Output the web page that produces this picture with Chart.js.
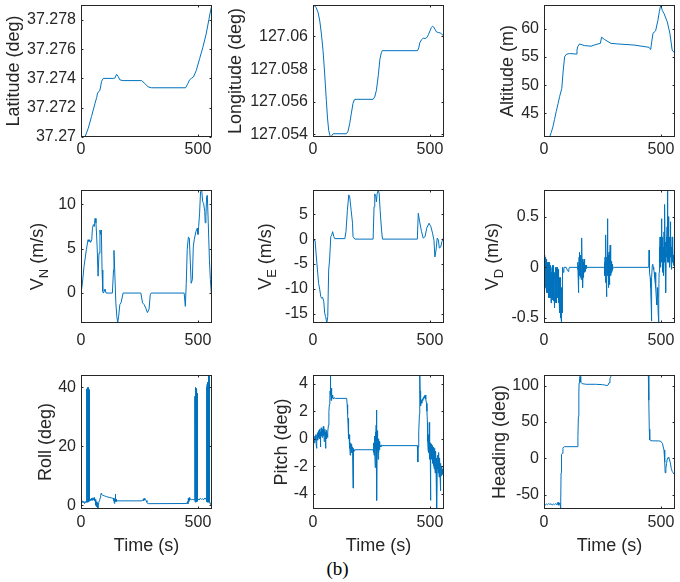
<!DOCTYPE html>
<html>
<head>
<meta charset="utf-8">
<script src="https://cdn.jsdelivr.net/npm/chart.js@4.4.1/dist/chart.umd.min.js"></script>
<style>
  body { margin: 0; background: #fff; }
  #fig { position: relative; width: 680px; height: 582px; overflow: hidden; }
  #fig canvas { position: absolute; }
  #caption { position: absolute; left: 300px; width: 75px; top: 559px; text-align: center;
             font: 19px 'Liberation Serif', 'Times New Roman', serif; line-height: 20px; color: #000; }
</style>
</head>
<body>
<div id="fig"><div id="caption">(b)</div></div>
<script>
// time axis (s)
const TIME_TICKS = [0, 500];
const TIME_MAX = 560;

// [time, value] pairs
const latitude = [[0,37.2700],[10,37.2700],[17,37.2700],[31,37.2706],[45,37.2714],[60,37.2723],[67,37.2727],[71,37.2730],[81,37.2732],[88,37.2738],[95,37.2740],[138,37.2740],[145,37.27402],[152,37.27428],[159,37.27413],[166,37.2739],[180,37.27385],[259,37.27385],[273,37.27365],[287,37.27342],[301,37.27336],[447,37.27336],[457,37.27365],[464,37.2739],[472,37.2740],[481,37.2741],[493,37.27455],[507,37.27534],[521,37.27613],[535,37.27703],[547,37.27804],[555,37.27872],[560,37.27901]];

const longitude = [[0,127.06193],[7,127.06188],[14,127.06176],[22,127.06145],[29,127.06095],[36,127.06015],[43,127.05913],[50,127.0577],[57,127.05609],[62,127.055],[67,127.05426],[72,127.05395],[76,127.05384],[81,127.05395],[86,127.05404],[143,127.05404],[150,127.0542],[157,127.05467],[164,127.0553],[171,127.0559],[176,127.0561],[179,127.05615],[257,127.05615],[264,127.0563],[271,127.0567],[279,127.0576],[286,127.0586],[292,127.059],[296,127.05913],[447,127.05913],[452,127.0593],[457,127.05963],[464,127.0598],[471,127.0599],[479,127.05988],[486,127.05992],[493,127.0601],[500,127.06034],[506,127.06055],[511,127.06063],[516,127.06058],[521,127.06045],[528,127.06028],[536,127.06024],[545,127.06022],[553,127.0601],[560,127.06004]];

const altitude = [[0,40.8],[24,40.8],[31,41.6],[38,42.6],[45,43.9],[52,45.3],[60,46.7],[67,48.0],[76,49.4],[82,52.5],[88,55.0],[95,55.45],[109,55.6],[137,55.5],[141,56.2],[144,56.8],[152,57.3],[173,57.0],[201,56.9],[222,57.2],[241,57.4],[246,58.5],[258,58.1],[286,57.4],[314,57.3],[385,57.1],[449,56.7],[456,56.3],[461,57.8],[466,59.2],[477,59.6],[487,61.5],[493,63.0],[499,64.2],[506,63.2],[513,62.7],[527,61.2],[538,59.2],[548,56.2],[557,55.75],[560,55.7]];

const velNorth = [[0,0],[6,1.1],[13,3.0],[23,4.9],[30,6.0],[34,5.8],[37,6.0],[41,5.7],[46,6.0],[49,7.3],[53,7.7],[57,7.5],[60,8.4],[64,7.9],[69,5.2],[73,1.9],[77,4.5],[81,7.1],[84,6.6],[87,7.1],[90,2.6],[93,0.2],[96,0],[103,0.45],[107,0],[134,0],[139,2.6],[141,4.8],[144,2.6],[149,-1.1],[153,-2.6],[157,-3.35],[161,-2.6],[166,-1.3],[171,-1.1],[180,0],[256,0],[263,-1.1],[270,-1.3],[277,-1.7],[284,-2.2],[291,-1.8],[296,-0.2],[300,0],[441,0],[446,-1.5],[450,1.1],[454,4.9],[459,6.3],[463,6.2],[467,3.7],[471,1.1],[476,1.5],[480,5.2],[484,6.0],[491,6.9],[497,7.3],[500,6.6],[503,7.5],[507,9.0],[511,11.4],[516,11.6],[520,10.3],[524,10.1],[529,9.2],[531,7.9],[534,8.6],[537,10.9],[540,11.0],[544,7.9],[549,3.7],[553,1.5],[557,0],[560,0]];

const velEast = [[0,0],[4,-0.2],[9,-0.3],[13,-2.8],[19,-6.2],[24,-8.9],[29,-10.2],[33,-11.5],[37,-11.9],[41,-11.7],[46,-12.5],[50,-14.9],[54,-15.6],[59,-16.87],[63,-15.6],[67,-6.2],[71,-4.2],[76,0.5],[80,0.8],[84,1.5],[89,0.5],[93,0.1],[136,0.1],[141,1.5],[147,5.8],[153,8.9],[157,8.5],[163,5.8],[169,3.2],[171,0.5],[179,0],[257,0],[261,6.5],[264,9.1],[269,8.5],[271,7.5],[274,9.1],[279,9.88],[283,9.1],[287,5.8],[293,1.8],[297,0],[446,0],[450,5.2],[456,3.5],[464,1.5],[471,0.2],[479,0.5],[486,2.2],[496,3.2],[504,2.5],[511,1.2],[517,-0.2],[521,-3.6],[526,-2.2],[531,0.2],[536,-0.2],[540,-1.8],[546,-1.6],[551,-0.5],[560,0.5]];

const velDown = [[0,0],[2,0.05],[2.5,-0.1],[3,-0.05],[3.5,0.12],[4,0.1],[4.5,-0.15],[5,-0.08],[5.5,0.1],[6,0.08],[6.5,-0.2],[7,-0.15],[7.5,0.1],[8,0.05],[8.5,-0.05],[9,-0.2],[9.5,-0.25],[10,0.02],[10.5,0.05],[11,-0.1],[11.5,-0.2],[12,0.08],[12.5,0.02],[13,-0.25],[13.5,0.05],[14,-0.05],[14.5,-0.22],[15,0.05],[15.5,-0.1],[16,-0.18],[16.5,0.03],[17,0],[17.5,-0.15],[18,-0.3],[18.5,0.02],[19,-0.1],[19.5,-0.25],[20,0.05],[20.5,-0.1],[21,-0.22],[21.5,0.02],[22,-0.05],[22.5,-0.3],[23,-0.15],[23.5,0],[24,0.03],[24.5,-0.2],[25,-0.28],[25.5,0.05],[26,-0.08],[26.5,-0.25],[27,-0.2],[27.5,-0.05],[28,0],[28.5,-0.3],[29,-0.15],[29.5,0.02],[30,-0.35],[30.5,-0.2],[31,-0.1],[31.5,-0.05],[32,-0.25],[32.5,-0.35],[33,-0.05],[33.5,-0.15],[34,-0.2],[34.5,0],[35,-0.3],[35.5,-0.2],[36,-0.12],[36.5,-0.32],[37,0.02],[37.5,-0.1],[38,-0.25],[38.5,0],[39,-0.1],[39.5,-0.22],[40,-0.33],[40.5,0.02],[41,-0.15],[41.5,-0.3],[42,-0.05],[42.5,-0.2],[43,-0.28],[43.5,-0.05],[44,-0.12],[44.5,-0.25],[45,-0.4],[45.5,-0.1],[46,-0.2],[46.5,-0.3],[47,-0.05],[47.5,-0.15],[48,-0.25],[48.5,0],[49,-0.1],[49.5,-0.35],[50,-0.3],[50.5,-0.05],[51,-0.15],[51.5,-0.28],[52,-0.2],[52.5,-0.1],[53,0],[53.5,-0.25],[54,-0.35],[54.5,-0.05],[55,-0.1],[55.5,-0.3],[56,-0.25],[56.5,-0.12],[57,-0.05],[57.5,-0.28],[58,-0.2],[58.5,0],[59,-0.3],[59.5,-0.15],[60,-0.12],[60.5,-0.35],[61,-0.02],[61.5,-0.2],[62,-0.15],[62.5,-0.05],[63,-0.3],[63.5,-0.1],[64,-0.18],[64.5,-0.3],[65,-0.38],[65.5,-0.2],[66,-0.1],[66.5,-0.4],[67,-0.25],[67.5,-0.15],[68,-0.45],[68.5,-0.3],[69,-0.2],[69.5,-0.5],[70,-0.3],[70.5,-0.15],[71,-0.1],[71.5,-0.35],[72,-0.4],[72.5,-0.2],[73,-0.5],[73.5,-0.4],[74,-0.3],[74.5,-0.2],[75,-0.549],[75.5,-0.45],[76,-0.35],[76.5,-0.25],[77,-0.2],[77.5,-0.45],[78,-0.38],[78.5,-0.2],[79,-0.1],[80,-0.03],[81,0],[83,-0.05],[85,0],[95,0],[100,-0.03],[103,-0.04],[106,-0.02],[109,0],[142,0],[144,-0.02],[145,0.05],[146,-0.1],[147,-0.25],[148,0.02],[149,-0.12],[150,0.1],[151,-0.05],[152,0.15],[153,-0.08],[154,0.08],[155,-0.1],[156,0.12],[157,-0.05],[158,0.05],[159,-0.12],[160,0.1],[161,0],[162,0.29],[163,-0.05],[164,0.08],[165,-0.08],[166,-0.2],[167,0.05],[168,-0.1],[169,0.05],[170,-0.05],[171,0.08],[172,-0.03],[173,0.05],[174,-0.05],[175,0.03],[176,-0.04],[177,0.02],[178,-0.02],[180,0.02],[182,-0.01],[185,0],[258,0],[259,0.05],[260,-0.08],[261,0.1],[262,-0.15],[263,0.05],[264,0.15],[265,0.32],[266,-0.1],[267,0.08],[268,-0.29],[269,0.1],[270,-0.05],[271,0.2],[272,0.48],[273,-0.08],[274,0.12],[275,-0.2],[276,0.05],[277,-0.1],[278,0.15],[279,-0.17],[280,0.08],[281,-0.05],[282,0.1],[283,0.22],[284,-0.06],[285,0.05],[286,-0.08],[287,0.06],[288,-0.04],[289,0.05],[290,-0.05],[291,0.03],[292,-0.03],[294,0.02],[296,-0.01],[300,0],[446,0],[448,0.05],[449,0.17],[450,0],[452,-0.05],[454,-0.1],[456,-0.2],[458,-0.35],[459,-0.53],[460,-0.3],[461,-0.1],[463,0.02],[465,0.03],[467,0],[469,-0.02],[471,-0.05],[473,-0.1],[475,-0.15],[477,-0.05],[478,-0.2],[480,-0.3],[482,-0.37],[484,-0.2],[486,-0.3],[488,-0.45],[490,-0.549],[491,-0.3],[492,-0.05],[493,0.1],[494,0.2],[495,0.05],[496,0.3],[497,0.1],[498,0.2],[499,0],[500,0.15],[501,0.25],[502,0.05],[503,0.48],[504,0.1],[505,0.2],[506,-0.05],[507,0.15],[508,0.3],[509,0.05],[510,0.2],[511,0.1],[512,-0.08],[513,0.35],[514,0.1],[515,0.2],[516,0.05],[517,0.62],[518,0.1],[519,0.25],[520,-0.1],[521,-0.25],[522,0.15],[523,0.3],[524,0.1],[525,0.2],[526,0.4],[527,0.78],[528,0.2],[529,0.05],[530,0.35],[531,0.5],[532,0.15],[533,0.25],[534,0.05],[535,0.2],[536,0.1],[537,0],[538,0.3],[539,0.15],[540,0.45],[541,0.1],[542,0.25],[543,0.05],[544,0.15],[545,-0.02],[546,0.2],[547,0.1],[548,0.3],[549,0.05],[550,0.15],[551,0.2],[552,0.05],[553,0.12],[555,0.02],[557,0.1],[560,0]];

const roll = [[0,1.2],[3,0.8],[6,1.5],[9,1.0],[12,1.3],[15,0.6],[18,1.2],[21,1.0],[22,1.2],[22.5,37],[23,1.5],[23.5,38.5],[24,1.0],[24.5,39],[25,1.6],[25.5,39.5],[26,1.2],[26.5,39.6],[27,1.8],[27.5,39.8],[28,1.0],[28.5,40],[29,1.5],[29.5,39.9],[30,1.2],[30.5,39.8],[31,1.8],[31.5,40],[32,1.3],[32.5,39.7],[33,1.9],[33.5,39.5],[34,1.2],[34.5,39.2],[35,1.7],[35.5,39],[36,1.4],[36.5,38],[37,1.8],[38,1.4],[40,2.0],[42,1.6],[44,2.3],[46,1.9],[48,2.5],[50,1.7],[52,2.2],[54,2.0],[56,2.6],[58,1.5],[60,2.0],[62,1.0],[64,0.0],[66,1.2],[68,-0.5],[70,0.8],[72,-1.2],[74,0.5],[76,1.0],[78,1.5],[80,2.0],[82,2.5],[84,3.2],[86,4.0],[88,3.8],[92,3.4],[100,3.2],[110,2.9],[120,2.7],[130,2.5],[138,2.3],[140,1.5],[141,2.5],[142,0.9],[143,1.8],[144,0.6],[145,2.2],[146,1.2],[147,3.8],[148,1.5],[150,2.0],[152,1.3],[155,1.5],[260,1.5],[263,1.8],[265,1.6],[267,2.2],[269,1.7],[271,2.3],[273,1.8],[275,2.0],[278,1.6],[282,1.0],[285,0.6],[290,0.55],[452,0.6],[455,1.2],[457,0.5],[459,2.4],[461,1.3],[463,2.6],[465,1.8],[468,2.0],[472,1.9],[478,2.0],[484,1.8],[486.5,1.8],[487,37],[487.5,1.2],[488,38.5],[488.5,1.6],[489,39.5],[489.5,1.0],[490,40],[490.5,1.4],[491,39.8],[491.5,2.0],[492,39.6],[492.5,1.2],[493,39.3],[493.5,1.6],[494,39],[494.5,1.1],[495,38.6],[495.5,1.8],[496,38],[496.5,1.3],[497,37.5],[497.5,2.0],[500,2.2],[505,1.8],[510,2.4],[515,2.0],[520,2.2],[525,1.9],[530,2.5],[535,2.0],[537.5,1.6],[538,40],[538.5,1.2],[539,41],[539.5,1.8],[540,41.5],[540.5,1.0],[541,41.8],[541.5,1.5],[542,41.5],[542.5,2.0],[543,40.5],[543.5,1.2],[544,43],[544.5,1.8],[545,43.8],[545.5,1.0],[546,44.2],[546.5,1.5],[547,44],[547.5,1.2],[548,43.8],[548.5,1.6],[549,43.5],[549.5,1.0],[550,43],[550.5,1.3],[552,0.6],[554,0.4],[556,0.0],[560,0.2]];

const pitch = [[0,-0.1],[2,-0.2],[4,0.1],[6,-0.3],[8,0.2],[10,-0.1],[12,0.3],[14,-0.5],[15,0.1],[16,-0.7],[17,0.2],[19,0.4],[20,-0.1],[22,0.5],[23,0.1],[25,0.6],[26,0.2],[28,0.7],[29,0],[31,0.5],[32,-0.6],[33,0.3],[35,0.8],[36,0.2],[38,0.6],[39,0.1],[41,0.7],[42,0.3],[44,0.9],[45,0.2],[47,0.6],[48,-0.2],[50,0.7],[51,0.3],[53,0.5],[54,-0.7],[55,0.2],[57,0.6],[58,0],[60,0.4],[62,0.1],[64,0.5],[66,1.0],[68,2.0],[70,2.5],[72,3.0],[73,3.5],[74,4.7],[75,3.2],[76,3.6],[77,2.8],[78,3.7],[79,3.0],[80,3.4],[81,2.9],[82,3.2],[83,3.0],[85,3.1],[87,2.9],[90,3.0],[95,2.95],[144,2.95],[146,2.5],[148,1.8],[150,1.0],[151,1.5],[152,0.4],[153,0],[154,0.3],[155,-0.5],[156,-0.1],[157,-0.7],[158,-0.3],[159,-1.2],[160,-0.4],[161,-0.8],[162,-0.3],[163,-1.0],[164,-0.5],[165,-0.8],[166,-0.4],[167,-0.9],[168,-0.6],[169,-1.0],[170,-0.7],[171,-3.6],[172,-0.8],[174,-0.7],[176,-0.9],[178,-0.8],[257,-0.8],[258,-0.5],[259,-1.0],[260,-0.3],[261,-1.2],[262,-0.2],[263,-0.9],[264,0.2],[265,-0.6],[266,-2.1],[267,-0.1],[268,0.5],[269,-0.8],[270,1.0],[271,-0.3],[272,2.1],[273,-4.5],[274,-0.2],[275,0.6],[276,-0.9],[277,-0.1],[278,-1.5],[279,0],[280,-0.7],[281,-0.3],[282,-1.0],[283,-0.2],[284,-0.8],[285,-0.4],[286,-0.6],[288,-0.5],[290,-0.6],[292,-0.45],[295,-0.5],[446,-0.5],[448,-1.7],[449,-0.6],[451,-0.3],[453,0.5],[455,1.8],[456,3.0],[457,4.7],[458,3.5],[459,2.5],[460,3.0],[461,2.4],[463,2.8],[465,2.6],[467,2.9],[469,2.8],[471,3.0],[473,2.9],[475,3.1],[477,3.0],[479,3.2],[481,3.1],[483,2.9],[485,2.6],[487,2.0],[489,1.2],[490,0.5],[491,-0.2],[492,-0.8],[493,0.3],[494,-0.5],[495,-1.0],[496,-0.3],[497,1.2],[498,-0.6],[499,-1.5],[500,-0.8],[501,-0.3],[502,-1.2],[503,-4.5],[504,-0.9],[505,-0.4],[506,-1.5],[507,-0.7],[508,-1.1],[509,-0.5],[510,-1.8],[511,-0.9],[512,-1.3],[513,-0.6],[514,-2.0],[515,-1.0],[516,-1.5],[517,-0.8],[518,-2.2],[519,-1.2],[520,-0.7],[521,-1.6],[522,-2.5],[523,-1.1],[524,-1.8],[525,-0.9],[526,-2.0],[527,-1.4],[528,-2.8],[529,-1.5],[530,-5.2],[531,-1.8],[532,-1.2],[533,-2.2],[534,-1.6],[535,-2.5],[536,-1.0],[537,-2.0],[538,-1.5],[539,-2.8],[540,-1.7],[541,-2.2],[542,-1.4],[543,-2.6],[544,-3.8],[545,-2.0],[546,-2.5],[547,-1.8],[548,-2.7],[549,-2.1],[550,-2.5],[551,-2.0],[552,-2.6],[553,-2.2],[554,-2.5],[555,-2.3],[556,-2.6],[558,-2.4],[560,-2.4]];

const heading = [[0,-63.8],[5,-64.5],[10,-63],[15,-64],[20,-62.5],[25,-63.5],[30,-62.8],[35,-64.2],[40,-63],[45,-63.8],[50,-62.5],[55,-64],[58,-61],[60,-64.5],[62,-60.5],[64,-64],[66,-62],[68,-63.5],[70,-66],[71,-69.9],[72,-60],[73,-20],[74,4.5],[76,5.5],[78,6.8],[81,13.7],[84,15.5],[88,16],[142,16],[145,30],[147,57.6],[149,90],[150,103.7],[152,110],[154,113],[156,110],[158,105],[162,103],[166,102.7],[180,102],[220,102],[250,101.5],[260,101],[265,100.5],[270,100.2],[274,101],[278,104],[282,110],[286,113],[290,114.3],[293,114.7],[446,114.7],[448,80],[450,40],[452,25.2],[456,24.2],[470,24],[490,24],[499,23.5],[506,20.6],[513,11.4],[516,-5],[518,-20],[521,-14],[524,-7],[527,-1],[531,1.2],[534,0],[537,-2.4],[541,-8],[544,-14],[548,-18],[552,-20],[556,-21.8],[560,-22]];

// y ticks and their labels
const latTicks = [37.270, 37.272, 37.274, 37.276, 37.278];
const latLabels = ['37.27', '37.272', '37.274', '37.276', '37.278'];
const lonTicks = [127.054, 127.056, 127.058, 127.060];
const lonLabels = ['127.054', '127.056', '127.058', '127.06'];
const altTicks = [45, 50, 55, 60];
const vnTicks = [0, 5, 10];
const veTicks = [-15, -10, -5, 0, 5];
const vdTicks = [-0.5, 0, 0.5];
const vdLabels = ['-0.5', '0', '0.5'];
const rollTicks = [0, 20, 40];
const pitchTicks = [-4, -2, 0, 2, 4];
const headTicks = [-50, 0, 50, 100];

const BLUE = '#0072BD';
const INK = '#262626';
const FONT = "'Liberation Sans', Arial, sans-serif";

// canvas column/row placement; l/r and t/b give the plot box edges
const COLS = [{ cl: 0, cw: 225, l: 81, r: 212 }, { cl: 228, cw: 225, l: 313, r: 444 }, { cl: 455, cw: 225, l: 544, r: 675 }];
const ROWS = [{ ct: 0, ch: 165, t: 5, b: 137, xpad: 3 }, { ct: 170, ch: 185, t: 190, b: 323, xpad: 8 }, { ct: 355, ch: 202, t: 375, b: 509, xpad: 4 }];

const panels = [
  { row: 0, col: 0, data: latitude, min: 37.27, max: 37.27901, ticks: latTicks, labels: latLabels, title: [['Latitude (deg)']], tx: 19 },
  { row: 0, col: 1, data: longitude, min: 127.05384, max: 127.06193, ticks: lonTicks, labels: lonLabels, title: [['Longitude (deg)']], tx: 241 },
  { row: 0, col: 2, data: altitude, min: 40.8, max: 64.2, ticks: altTicks, title: [['Altitude (m)']], tx: 513 },
  { row: 1, col: 0, data: velNorth, min: -3.37, max: 11.6, ticks: vnTicks, title: [['V'], ['N', 1], [' (m/s)']], tx: 43 },
  { row: 1, col: 1, data: velEast, min: -16.87, max: 9.88, ticks: veTicks, title: [['V'], ['E', 1], [' (m/s)']], tx: 271 },
  { row: 1, col: 2, data: velDown, min: -0.549, max: 0.763, ticks: vdTicks, labels: vdLabels, title: [['V'], ['D', 1], [' (m/s)']], tx: 498 },
  { row: 2, col: 0, data: roll, min: -1.26, max: 44.2, ticks: rollTicks, title: [['Roll (deg)']], tx: 51 },
  { row: 2, col: 1, data: pitch, min: -5.13, max: 4.66, ticks: pitchTicks, title: [['Pitch (deg)']], tx: 287 },
  { row: 2, col: 2, data: heading, min: -69.9, max: 114.8, ticks: headTicks, title: [['Heading (deg)']], tx: 505 },
];

// MATLAB style box with inward ticks, plus y label with subscripts
const framePlugin = {
  id: 'frame',
  afterDraw(chart, args, opts) {
    const { ctx, chartArea: a, scales } = chart;
    const L = Math.round(a.left) + 0.5, R = Math.round(a.right) - 0.5;
    const T = Math.round(a.top) + 0.5, B = Math.round(a.bottom) - 0.5;
    ctx.save();
    ctx.strokeStyle = INK;
    ctx.lineWidth = 1;
    ctx.strokeRect(L, T, R - L, B - T);
    ctx.beginPath();
    scales.x.ticks.forEach(t => {
      const px = Math.round(scales.x.getPixelForValue(t.value)) + 0.5;
      ctx.moveTo(px, B); ctx.lineTo(px, B - 2);
      ctx.moveTo(px, T); ctx.lineTo(px, T + 2);
    });
    scales.y.ticks.forEach(t => {
      const py = Math.round(scales.y.getPixelForValue(t.value)) + 0.5;
      ctx.moveTo(L, py); ctx.lineTo(L + 2, py);
      ctx.moveTo(R, py); ctx.lineTo(R - 2, py);
    });
    ctx.stroke();

    // rotated y title
    const main = '18px ' + FONT, sub = '13px ' + FONT;
    let total = 0;
    opts.parts.forEach(p => { ctx.font = p[1] ? sub : main; total += ctx.measureText(p[0]).width; });
    ctx.translate(opts.x, (a.top + a.bottom) / 2);
    ctx.rotate(-Math.PI / 2);
    ctx.fillStyle = INK;
    ctx.textBaseline = 'alphabetic';
    ctx.textAlign = 'left';
    let x = -total / 2;
    opts.parts.forEach(p => {
      ctx.font = p[1] ? sub : main;
      ctx.fillText(p[0], x, p[1] ? 5 : 0);
      x += ctx.measureText(p[0]).width;
    });
    ctx.restore();
  }
};

const fig = document.getElementById('fig');

panels.forEach(p => {
  const c = COLS[p.col], r = ROWS[p.row];
  const cv = document.createElement('canvas');
  cv.width = c.cw; cv.height = r.ch;
  cv.style.left = c.cl + 'px'; cv.style.top = r.ct + 'px';
  fig.appendChild(cv);
  const labels = p.labels || p.ticks.map(String);
  const bottomRow = p.row === 2;

  new Chart(cv, {
    type: 'line',
    data: {
      datasets: [{
        data: p.data.map(([x, y]) => ({ x, y })),
        borderColor: BLUE,
        borderWidth: 1,
        pointRadius: 0,
        tension: 0,
      }]
    },
    options: {
      responsive: false,
      animation: false,
      devicePixelRatio: 1,
      events: [],
      layout: { padding: { left: 0, top: r.t - r.ct, right: c.cl + c.cw - c.r, bottom: 0 } },
      plugins: {
        legend: { display: false },
        tooltip: { enabled: false },
        frame: { parts: p.title, x: p.tx - c.cl },
      },
      scales: {
        x: {
          type: 'linear',
          min: 0,
          max: TIME_MAX,
          grid: { display: false, drawTicks: false },
          border: { display: false },
          ticks: { color: INK, font: { family: FONT, size: 16 }, padding: r.xpad, maxRotation: 0, autoSkip: false },
          title: { display: bottomRow, text: 'Time (s)', color: INK, font: { family: FONT, size: 18 }, padding: 0 },
          afterBuildTicks: s => { s.ticks = TIME_TICKS.map(v => ({ value: v })); },
          afterFit: s => { s.height = r.ct + r.ch - r.b; s.paddingLeft = 0; s.paddingRight = 0; },
        },
        y: {
          type: 'linear',
          min: p.min,
          max: p.max,
          grid: { display: false, drawTicks: false },
          border: { display: false },
          ticks: {
            color: INK, font: { family: FONT, size: 16 }, padding: 5, autoSkip: false,
            callback: v => labels[p.ticks.indexOf(v)],
          },
          afterBuildTicks: s => { s.ticks = p.ticks.map(v => ({ value: v })); },
          afterFit: s => { s.width = c.l - c.cl; s.paddingTop = 0; s.paddingBottom = 0; },
        }
      }
    },
    plugins: [framePlugin]
  });
});
</script>
</body>
</html>
